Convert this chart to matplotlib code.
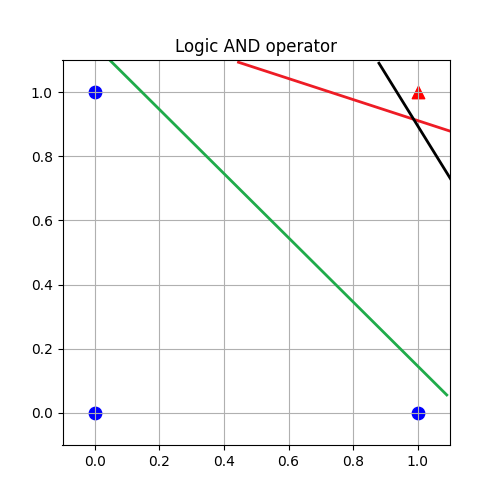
import numpy as np
import matplotlib
matplotlib.use("Agg")
import matplotlib.pyplot as plt

# data points for logic AND
x_pts = [0, 0, 1]
y_pts = [0, 1, 0]
x_pos = [1]
y_pos = [1]

# decision boundary lines (endpoints)
green_x = [-0.1, 1.09]
green_y = [1.246, 0.056]
red_x = [0.445, 1.15]
red_y = [1.093, 0.862]
black_x = [0.88, 1.15]
black_y = [1.09, 0.651]

fig, ax = plt.subplots(figsize=(5, 5), dpi=100)
ax.scatter(x_pts, y_pts, c='b', marker='o', s=80)
ax.scatter(x_pos, y_pos, c='r', marker='^', s=80)
ax.plot(green_x, green_y, color='#1fab4a', lw=2)
ax.plot(red_x, red_y, color='#ee1c25', lw=2)
ax.plot(black_x, black_y, color='black', lw=2)
ax.set_xlim(-0.1, 1.1)
ax.set_ylim(-0.1, 1.1)
ax.grid(True)
ax.set_title('Logic AND operator')
fig.savefig('out.png')
